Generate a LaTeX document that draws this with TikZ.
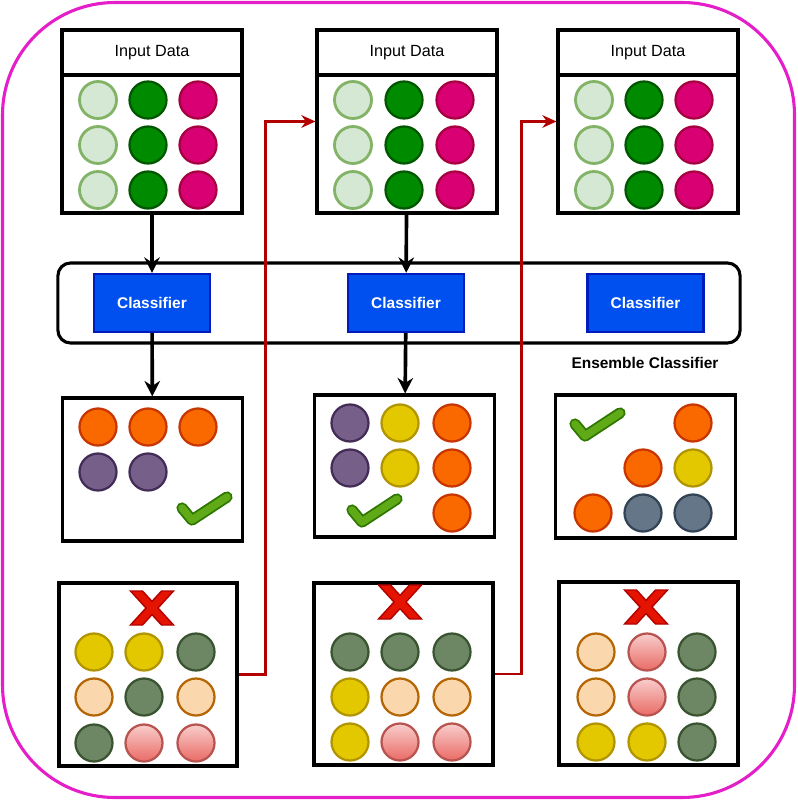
\documentclass[tikz,border=0pt]{standalone}
\usepackage{fontspec}
\setmainfont{Liberation Sans}
\usepackage{tikz}
\usetikzlibrary{arrows.meta,positioning}
\definecolor{rim}{RGB}{228,30,200}
\definecolor{link}{RGB}{178,0,0}
\definecolor{clsfill}{RGB}{0,80,239}
\definecolor{clsedge}{RGB}{0,29,188}
\definecolor{palefill}{RGB}{213,232,212}
\definecolor{paleedge}{RGB}{130,179,102}
\definecolor{leaffill}{RGB}{0,138,0}
\definecolor{leafedge}{RGB}{0,87,0}
\definecolor{berryfill}{RGB}{216,0,115}
\definecolor{berryedge}{RGB}{165,0,64}
\definecolor{amberfill}{RGB}{250,104,0}
\definecolor{amberedge}{RGB}{199,53,0}
\definecolor{plumfill}{RGB}{118,96,138}
\definecolor{plumedge}{RGB}{67,45,87}
\definecolor{goldfill}{RGB}{227,200,0}
\definecolor{goldedge}{RGB}{176,149,0}
\definecolor{slatefill}{RGB}{100,118,135}
\definecolor{slateedge}{RGB}{49,67,84}
\definecolor{sagefill}{RGB}{109,135,100}
\definecolor{sageedge}{RGB}{58,84,49}
\definecolor{peachfill}{RGB}{250,215,172}
\definecolor{peachedge}{RGB}{180,101,4}
\definecolor{rosetop}{RGB}{248,206,204}
\definecolor{rosebot}{RGB}{234,107,102}
\definecolor{roseedge}{RGB}{184,84,80}
\definecolor{tickfill}{RGB}{96,169,23}
\definecolor{tickedge}{RGB}{45,118,0}
\definecolor{crossfill}{RGB}{229,20,0}
\definecolor{crossedge}{RGB}{178,0,0}

\tikzset{
  tickmark/.pic={
    \draw[tickedge, line width=8pt, line cap=round, line join=round]
      (-22,-1) -- (-12,11) -- (23,-12);
    \draw[tickfill, line width=5.4pt, line cap=round, line join=round]
      (-22,-1) -- (-12,11) -- (23,-12);
  },
  crossmark/.pic={
    \draw[crossedge, fill=crossfill, line width=1pt]
      (-21.5,-17) -- (-9.5,-17) -- (0,-6.6) -- (9.5,-17) -- (21.5,-17) -- (6,0) --
      (21.5,17) -- (9.5,17) -- (0,6.6) -- (-9.5,17) -- (-21.5,17) -- (-6,0) -- cycle;
  }
}

\begin{document}
\begin{tikzpicture}[x=0.025cm, y=-0.025cm,
    box/.style={draw, line width=2.2pt, inner sep=0pt, minimum width=4.5cm},
    ball/.style={line width=1.6pt},
    pale/.style={ball, fill=palefill, draw=paleedge, line width=2pt},
    leaf/.style={ball, fill=leaffill, draw=leafedge},
    berry/.style={ball, fill=berryfill, draw=berryedge},
    amber/.style={ball, fill=amberfill, draw=amberedge},
    plum/.style={ball, fill=plumfill, draw=plumedge},
    gold/.style={ball, fill=goldfill, draw=goldedge},
    slate/.style={ball, fill=slatefill, draw=slateedge},
    sage/.style={ball, fill=sagefill, draw=sageedge},
    peach/.style={ball, fill=peachfill, draw=peachedge},
    rose/.style={ball, draw=roseedge, top color=rosetop, bottom color=rosebot},
    clf/.style={draw=clsedge, fill=clsfill, line width=1.6pt, text=white,
      font=\bfseries\fontsize{11}{13}\selectfont, minimum width=2.9cm, minimum height=1.45cm},
    passarrow/.style={draw=black, line width=2.6pt, -{Stealth[length=11pt,width=11pt]}},
    feedback/.style={draw=link, line width=1.8pt, -{Stealth[length=10pt,width=9pt]}}]

    \useasboundingbox (0,0) rectangle (797,800);
    % outer frame
    \draw[rim, line width=2.2pt, rounded corners=80pt] (2.5,2.5) rectangle (794.5,797.5);

    % input data sets
    \node[box, minimum height=4.575cm] (in1) at (152,121.5) {};
    \node[box, minimum height=4.575cm] (in2) at (407,121.5) {};
    \node[box, minimum height=4.575cm] (in3) at (648,121.5) {};
    \node[box, minimum height=1.125cm, anchor=north, font=\fontsize{11.5}{13}\selectfont]
          (hd1) at (in1.north) {Input Data};
    \node[box, minimum height=1.125cm, anchor=north, font=\fontsize{11.5}{13}\selectfont]
          (hd2) at (in2.north) {Input Data};
    \node[box, minimum height=1.125cm, anchor=north, font=\fontsize{11.5}{13}\selectfont]
          (hd3) at (in3.north) {Input Data};
    \foreach \c in {98,353,594} \foreach \r in {100,145,190}
        \draw[pale] (\c,\r) circle[radius=18.5];
    \foreach \c in {148,404,644} \foreach \r in {100,145,190}
        \draw[leaf] (\c,\r) circle[radius=18.5];
    \foreach \c in {198,455,694} \foreach \r in {100,145,190}
        \draw[berry] (\c,\r) circle[radius=18.5];

    % ensemble
    \node[draw, line width=2.2pt, rounded corners=9pt, minimum width=17.05cm,
          minimum height=2cm] (ens) at (399,303) {};
    \node[clf] (clf1) at (152,303) {Classifier};
    \node[clf] (clf2) at (406,303) {Classifier};
    \node[clf] (clf3) at (645.5,303) {Classifier};
    \node[font=\bfseries\fontsize{11}{13}\selectfont] (lbl) at (645,363) {Ensemble Classifier};

    % predictions
    \node[box, minimum height=3.575cm] (out1) at (152.5,469.5) {};
    \node[box, minimum height=3.55cm] (out2) at (404.5,466) {};
    \node[box, minimum height=3.575cm] (out3) at (645.5,466.5) {};
    \foreach \s/\c/\r in {amber/98/427, amber/148/427, amber/198/427, plum/98/472, plum/148/472,
        plum/350/423, gold/400/423, amber/452/423, plum/350/468, gold/400/468,
        amber/452/468, amber/452/513,
        amber/693/423, amber/643/468, gold/693/468, amber/593/513, slate/643/513, slate/693/513}
        \draw[\s] (\c,\r) circle[radius=18.5];
    \pic at (204,509) {tickmark};
    \pic at (374,511) {tickmark};
    \pic at (597,425) {tickmark};

    % misclassified sets
    \node[box, minimum width=4.45cm, minimum height=4.575cm] (bad1) at (148,674.5) {};
    \node[box, minimum width=4.475cm, minimum height=4.55cm] (bad2) at (403.5,674) {};
    \node[box, minimum width=4.475cm, minimum height=4.575cm] (bad3) at (648.5,673.5) {};
    \foreach \s/\c/\r in {gold/94/652, gold/144/652, sage/196/652,
        peach/94/697, sage/144/697, peach/196/697, sage/94/743, rose/144/743, rose/196/743,
        sage/350/652, sage/400/652, sage/452/652, gold/350/697, peach/400/697, peach/452/697,
        gold/350/742, rose/400/742, rose/452/742,
        peach/596/652, rose/647/652, sage/697/652, peach/596/697, rose/647/697, sage/697/697,
        gold/596/742, gold/647/742, sage/697/742}
        \draw[\s] (\c,\r) circle[radius=18.5];
    \pic at (152,608) {crossmark};
    \pic at (400,602) {crossmark};
    \pic at (646,607) {crossmark};

    % arrows
    \draw[passarrow] (in1) -- (clf1);
    \draw[passarrow] (in2) -- (clf2);
    \draw[passarrow] (clf1) -- (out1);
    \draw[passarrow] (clf2) -- (out2);
    \draw[feedback] (bad1.east) -- ++(27,0) |- (in2.west);
    \draw[feedback] (bad2.east) -- ++(27,0) |- (in3.west);
\end{tikzpicture}
\end{document}
